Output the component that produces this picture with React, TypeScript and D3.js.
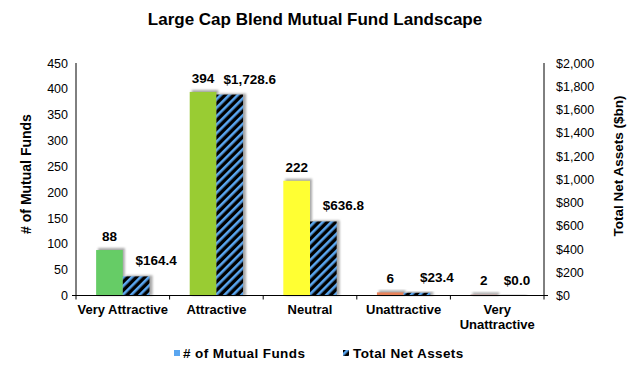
import React from "react";
import * as d3 from "d3";

const categories = ["Very Attractive", "Attractive", "Neutral", "Unattractive", "Very Unattractive"];
const fundCounts = [88, 394, 222, 6, 2];
const netAssets = [164.4, 1728.6, 636.8, 23.4, 0.0];
const ratingColors = ["#66cc66", "#99cc33", "#ffff33", "#e8825a", "#c9a0a0"];
const leftTicks = [0, 50, 100, 150, 200, 250, 300, 350, 400, 450];
const rightTicks = [0, 200, 400, 600, 800, 1000, 1200, 1400, 1600, 1800, 2000];

const W = 630;
const H = 368;
const FONT = "'Liberation Sans', Arial, sans-serif";

const App = () => {
  const left = 76;
  const right = 544;
  const top = 63;
  const bottom = 295.5;

  const x = d3.scaleBand<string>().domain(categories).range([left, right]);
  const bw = x.bandwidth();
  const inner = d3
    .scaleBand<string>()
    .domain(["funds", "assets"])
    .range([bw * 0.215, bw * 0.785]);
  const yL = d3.scaleLinear().domain([0, 450]).range([bottom, top]);
  const yR = d3.scaleLinear().domain([0, 2000]).range([bottom, top]);
  const fmtMoney = (v: number) => "$" + d3.format(",")(v);
  const fmtAssets = (v: number) => "$" + d3.format(",.1f")(v);

  const edges = categories.map((c) => x(c)!).concat([right]);

  return (
    <svg width={W} height={H} style={{ position: "absolute", left: 0, top: 0, background: "#fff" }}>
      <defs>
        <pattern id="hatch" width="6" height="6" patternUnits="userSpaceOnUse" patternTransform="rotate(45)">
          <rect width="6" height="6" fill="#000" />
          <rect width="2.6" height="6" fill="#5aa6f0" />
        </pattern>
        <filter id="blur" x="-20%" y="-20%" width="140%" height="140%">
          <feGaussianBlur stdDeviation="1" />
        </filter>
      </defs>

      {/* Title */}
      <text x={315} y={25} textAnchor="middle" fontFamily={FONT} fontWeight="bold" fontSize={17}>
        Large Cap Blend Mutual Fund Landscape
      </text>

      {/* Bars */}
      {categories.map((c, i) => {
        const x0 = x(c)! + inner("funds")!;
        const x1 = x(c)! + inner("assets")!;
        const w = inner.bandwidth();
        const fy = yL(fundCounts[i]);
        const ay = yR(netAssets[i]);
        // asset labels sit to the right of the hatched bar, kept inside the plot
        const ax = Math.min(x1 + w / 2 + 20, right - 27);
        return (
          <g key={c}>
            <rect x={x1 + 3} y={ay - 1} width={w} height={bottom - ay + 1} fill="#a8a8a8" filter="url(#blur)" />
            <rect x={x0 + 2} y={fy - 2} width={w} height={bottom - fy + 2} fill="#a8a8a8" filter="url(#blur)" />
            <rect x={x0} y={fy} width={w} height={bottom - fy} fill={ratingColors[i]} />
            <rect x={x1} y={ay} width={w} height={bottom - ay} fill="url(#hatch)" />
            <text x={x0 + w / 2} y={fy - 9} textAnchor="middle" fontFamily={FONT} fontWeight="bold" fontSize={13.5}>
              {fundCounts[i]}
            </text>
            <text x={ax} y={ay - 11} textAnchor="middle" fontFamily={FONT} fontWeight="bold" fontSize={13.5}>
              {fmtAssets(netAssets[i])}
            </text>
          </g>
        );
      })}

      {/* Axes */}
      <line x1={left} x2={left} y1={top} y2={bottom} stroke="#000" />
      <line x1={right} x2={right} y1={top} y2={bottom} stroke="#000" />
      <line x1={left - 4} x2={right + 4} y1={bottom} y2={bottom} stroke="#000" />
      {edges.map((e, i) => (
        <line key={i} x1={e} x2={e} y1={bottom} y2={bottom + 4} stroke="#000" />
      ))}

      {leftTicks.map((t) => (
        <text key={t} x={68} y={yL(t) + 4.5} textAnchor="end" fontFamily={FONT} fontSize={12.5}>
          {t}
        </text>
      ))}
      {rightTicks.map((t) => (
        <text key={t} x={556} y={yR(t) + 4.5} textAnchor="start" fontFamily={FONT} fontSize={12.5}>
          {fmtMoney(t)}
        </text>
      ))}

      {/* Category labels */}
      {categories.map((c) => {
        const cx = x(c)! + bw / 2;
        const lines = c === "Very Unattractive" ? ["Very", "Unattractive"] : [c];
        return (
          <text key={c} x={cx} y={314} textAnchor="middle" fontFamily={FONT} fontWeight="bold" fontSize={13}>
            {lines.map((l, j) => (
              <tspan key={l} x={cx} dy={j === 0 ? 0 : 15}>
                {l}
              </tspan>
            ))}
          </text>
        );
      })}

      {/* Axis titles */}
      <text
        transform={`translate(26,174) rotate(-90)`}
        textAnchor="middle"
        fontFamily={FONT}
        fontWeight="bold"
        fontSize={14}
        dy="0.35em"
      >
        # of Mutual Funds
      </text>
      <text
        transform={`translate(618,166) rotate(-90)`}
        textAnchor="middle"
        fontFamily={FONT}
        fontWeight="bold"
        fontSize={13.5}
        dy="0.35em"
      >
        Total Net Assets ($bn)
      </text>

      {/* Legend */}
      <rect x={174} y={350} width={6} height={6} fill="#5aa6f0" />
      <text x={183} y={357.5} fontFamily={FONT} fontWeight="bold" fontSize={13.5} letterSpacing={0.4}>
        # of Mutual Funds
      </text>
      <rect x={343} y={350} width={6} height={6} fill="url(#hatch)" />
      <text x={353} y={357.5} fontFamily={FONT} fontWeight="bold" fontSize={13.5} letterSpacing={0.4}>
        Total Net Assets
      </text>
    </svg>
  );
};

export default App;
